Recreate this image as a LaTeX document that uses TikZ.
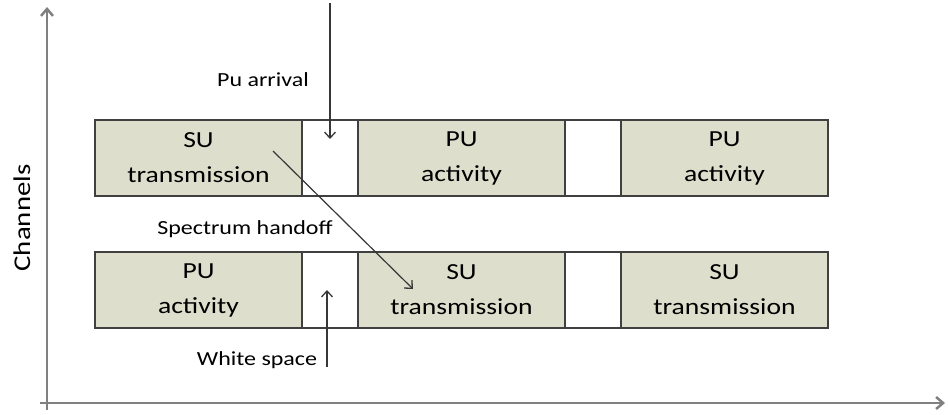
\documentclass[tikz,border=0pt]{standalone}
\usepackage{fontspec}
\setmainfont{Carlito}[FakeStretch=1.2]
\usetikzlibrary{positioning, arrows.meta}
\definecolor{bandfill}{RGB}{221,223,204}
\definecolor{bandline}{RGB}{64,64,64}
\definecolor{axisgray}{RGB}{128,128,128}
\definecolor{inkgray}{RGB}{55,55,55}

\begin{document}
\begin{tikzpicture}[x=1pt, y=-1pt, node distance=0pt,
    slot/.style={draw=bandline, line width=1.6pt, minimum height=76pt,
        outer sep=0pt, inner sep=0pt, align=center,
        font=\fontsize{23}{35}\selectfont},
    busy/.style={slot, fill=bandfill, minimum width=207pt},
    idle/.style={slot, fill=white, minimum width=56pt},
    lbl/.style={font=\fontsize{20}{24}\selectfont},
    pointer/.style={-{Straight Barb[length=6pt, width=11pt, line width=1.3pt]},
        draw=inkgray, line width=1.2pt},
    axis/.style={-{Straight Barb[length=7pt, width=12pt, line width=2.5pt]},
        axisgray, line width=2.5pt}]
    \useasboundingbox (0,0) rectangle (948,415);

    \coordinate (ytop) at (47,7);
    \coordinate (xend) at (945,403);
    \draw[axis] (47,410) -- (ytop);
    \draw[axis] (40,403) -- (xend);
    \node[rotate=90, font=\fontsize{24}{28}\selectfont] (chan) at (22,218) {Channels};

    \node[busy, anchor=west] (su1) at (95,158) {SU\\transmission};
    \node[idle] (g1) [right=of su1] {};
    \node[busy] (pu2) [right=of g1] {PU\\activity};
    \node[idle] (g2) [right=of pu2] {};
    \node[busy] (pu3) [right=of g2] {PU\\activity};

    \node[busy, anchor=west] (pu1) at (95,290) {PU\\activity};
    \node[idle] (g3) [right=of pu1] {};
    \node[busy] (su2) [right=of g3] {SU\\transmission};
    \node[idle] (g4) [right=of su2] {};
    \node[busy] (su3) [right=of g4] {SU\\transmission};

    \node[lbl] (arrival) at (263,80) {Pu arrival};
    \node[lbl] (handoff) at (245,229) {Spectrum handoff};
    \node[lbl] (white) at (257,360) {White space};

    \coordinate (arrtop) at (330,3);
    \coordinate (wsbot) at (327,367);
    \coordinate (hostart) at (273,151);
    \coordinate (hoend) at (413,289);
    \draw[pointer] (arrtop) -- (arrtop |- {(0,139)});
    \draw[pointer] (wsbot) -- (wsbot |- g3.center);
    \draw[pointer] (hostart) -- (hoend);
\end{tikzpicture}
\end{document}
